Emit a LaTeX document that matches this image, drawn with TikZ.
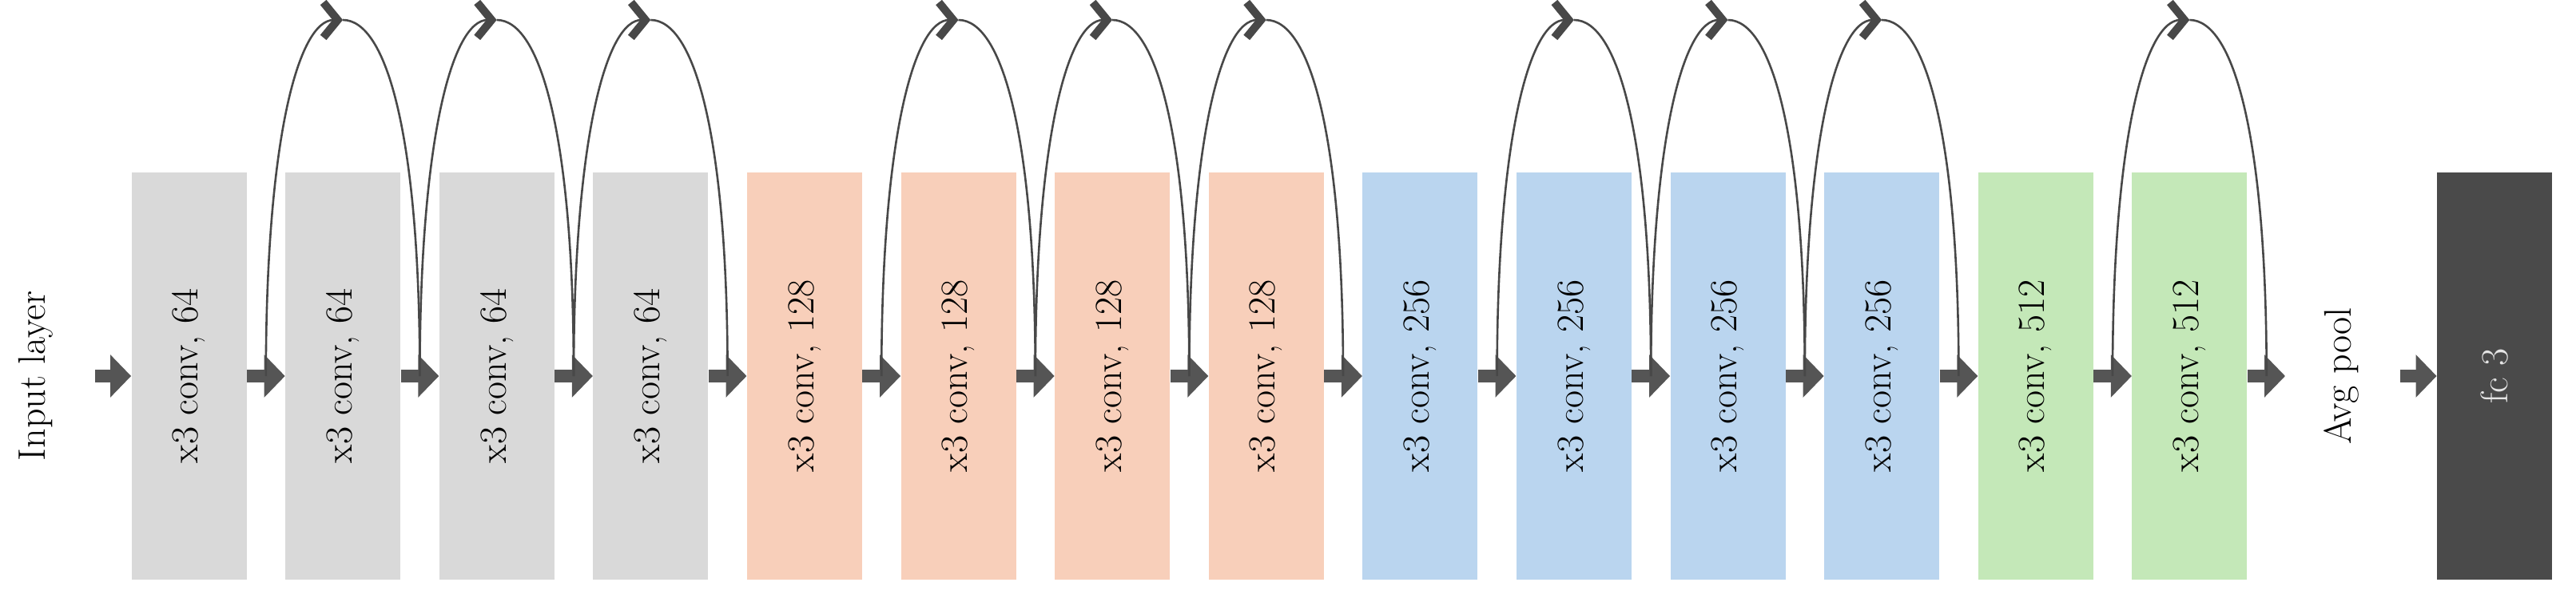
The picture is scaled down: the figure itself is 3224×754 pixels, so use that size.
\documentclass[tikz,border=0pt]{standalone}
\usetikzlibrary{arrows.meta,calc}
\definecolor{cgray}{HTML}{D9D9D9}
\definecolor{corange}{HTML}{F8CFBA}
\definecolor{cblue}{HTML}{BAD5EF}
\definecolor{cgreen}{HTML}{C4E8B8}
\definecolor{cdark}{HTML}{4A4A4A}
\definecolor{carrow}{HTML}{555555}
\begin{document}
\begin{tikzpicture}[x=0.5pt,y=-0.5pt,
  layer/.style={minimum width=72pt,minimum height=255pt,inner sep=0pt,font=\fontsize{24}{28}\selectfont},
  lbl/.style={font=\fontsize{24}{28}\selectfont,rotate=90,inner sep=0pt},
  blk/.style={draw=carrow,line width=8pt,-{Triangle[length=13pt,width=26pt]}},
  skip/.style={draw=carrow!85!black,line width=1.3pt},
  skiphead/.style={skip,-{Straight Barb[length=9pt,width=22pt,line width=5pt]}}]
\useasboundingbox (0,0) rectangle (3224,754);
\foreach \i/\c/\t in {1/cgray/64,2/cgray/64,3/cgray/64,4/cgray/64,5/corange/128,6/corange/128,7/corange/128,8/corange/128,9/cblue/256,10/cblue/256,11/cblue/256,12/cblue/256,13/cgreen/512,14/cgreen/512}{
  \node[layer,fill=\c] (b\i) at ({236.5+192.6*(\i-1)},471) {\rotatebox{90}{x3 conv, \t}};
}
\node[layer,fill=cdark,text=white!90!black] (fc) at (3122,471) {\rotatebox{90}{fc 3}};
\node[lbl] (inp) at (45,471) {Input layer};
\node[lbl] (avg) at (2930,471) {Avg pool};
\coordinate (s0) at (119,471);
\coordinate (a14) at (2860,471);
\coordinate (s15) at (3004,471);
\draw[blk] (s0) -- (b1.west);
\foreach \i [evaluate=\i as \j using int(\i+1)] in {1,...,13}{
  \draw[blk] (b\i.east) -- (b\j.west);
  \coordinate (g\i) at ($(b\i.east)!0.5!(b\j.west)$);
}
\draw[blk] (b14.east) -- (a14);
\coordinate (g14) at ($(b14.east)+(24,0)$);
\draw[blk] (s15) -- (fc.west);
\foreach \i/\j in {1/2,2/3,3/4,5/6,6/7,7/8,9/10,10/11,11/12,13/14}{
  \coordinate (p\i) at ($(g\i)!0.5!(g\j)+(0,-446)$);
  \draw[skiphead] (g\i) .. controls ($(g\i)+(0,-300)$) and ($(p\i)+(-55,0)$) .. (p\i);
  \draw[skip] (p\i) .. controls ($(p\i)+(55,0)$) and ($(g\j)+(0,-300)$) .. (g\j);
}
\end{tikzpicture}
\end{document}
